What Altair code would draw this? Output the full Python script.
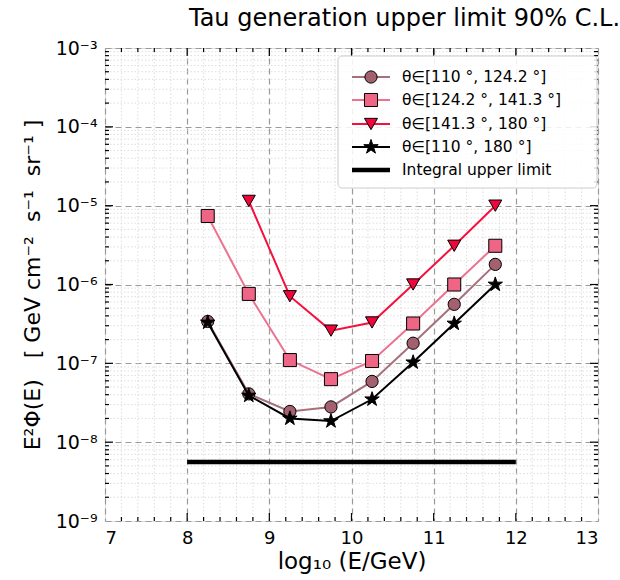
import altair as alt
import pandas as pd
import numpy as np

# ---------------- data ----------------
x_bins = [8.25, 8.75, 9.25, 9.75, 10.25, 10.75, 11.25, 11.75]
circ_y = [3.4e-7, 4.1e-8, 2.45e-8, 2.8e-8, 5.9e-8, 1.8e-7, 5.6e-7, 1.8e-6]
sq_y = [7.4e-6, 7.6e-7, 1.1e-7, 6.3e-8, 1.07e-7, 3.2e-7, 1.0e-6, 3.1e-6]
tri_x = [8.75, 9.25, 9.75, 10.25, 10.75, 11.25, 11.75]
tri_y = [1.15e-5, 7.1e-7, 2.6e-7, 3.3e-7, 1.0e-6, 3.1e-6, 1.0e-5]
star_y = [3.3e-7, 3.9e-8, 2.0e-8, 1.85e-8, 3.5e-8, 1.03e-7, 3.2e-7, 1.0e-6]
integral_x = [8, 12]
integral_y = [5.6e-9, 5.6e-9]

labels = [
    "θ∈[110\u00a0°, 124.2\u00a0°]",
    "θ∈[124.2\u00a0°, 141.3\u00a0°]",
    "θ∈[141.3\u00a0°, 180\u00a0°]",
    "θ∈[110\u00a0°, 180\u00a0°]",
    "Integral upper limit",
]

x_major = [7, 8, 9, 10, 11, 12, 13]
x_minor = [round(v, 1) for v in np.arange(7.2, 13.0, 0.2) if abs(v - round(v)) > 1e-6]
y_major = [1e-9, 1e-8, 1e-7, 1e-6, 1e-5, 1e-4, 1e-3]
y_minor = [m * 10.0 ** k for k in range(-9, -3) for m in range(2, 10)]

# ---------------- styles ----------------
FONT = "DejaVu Sans"
NB = "\u00a0"
W, H = 493, 473
STAR = ("M0,-1L0.2245,-0.309L0.951,-0.309L0.363,0.118L0.588,0.809L0,0.382"
        "L-0.588,0.809L-0.363,0.118L-0.951,-0.309L-0.2245,-0.309Z")
series = [
    dict(x=x_bins, y=circ_y, line="#a6707c", fill="#a3616f", shape="circle", size=150),
    dict(x=x_bins, y=sq_y, line="#ec7390", fill="#ee6585", shape="square", size=170),
    dict(x=tri_x, y=tri_y, line="#f5103f", fill="#f2053b", shape="triangle-down", size=170),
    dict(x=x_bins, y=star_y, line="#000000", fill="#000000", shape=STAR, size=230),
]

sup = {"-": "⁻", "0": "⁰", "1": "¹", "2": "²", "3": "³", "4": "⁴",
       "5": "⁵", "6": "⁶", "7": "⁷", "8": "⁸", "9": "⁹"}
expr = "''"
for e in range(-9, -2):
    s = "".join(sup[c] for c in str(e))
    expr = f"(round(log(datum.value)/LN10) == {e} ? '10{s}' : {expr})"

x_scale = alt.Scale(domain=[7, 13], nice=False, zero=False)
y_scale = alt.Scale(type="log", domain=[1e-9, 1e-3], nice=False)

y_title = f"E²Φ(E){NB}{NB}{NB}[{NB}GeV{NB}cm⁻²{NB}{NB}s⁻¹{NB}{NB}sr⁻¹{NB}]"

x_axis = alt.Axis(values=x_major, title="log₁₀ (E/GeV)", format="d", grid=True,
                  ticks=False, domain=False, labelFontSize=18, labelPadding=8,
                  titleFontSize=23, titleFontWeight="normal", titlePadding=3,
                  gridDash=[6, 4], gridColor="#9a9a9a", gridWidth=1.2,
                  labelColor="black", titleColor="black", labelFont=FONT, titleFont=FONT)
y_axis = alt.Axis(values=y_major, title=y_title, labelExpr=expr,
                  grid=True, ticks=False, domain=False, labelFontSize=19, labelPadding=8,
                  titleFontSize=22, titleFontWeight="normal", titlePadding=11,
                  gridDash=[6, 4], gridColor="#9a9a9a", gridWidth=1.2,
                  labelColor="black", titleColor="black", labelFont=FONT, titleFont=FONT)

X = lambda: alt.X("x:Q", scale=x_scale, axis=x_axis)
Y = lambda: alt.Y("y:Q", scale=y_scale, axis=y_axis)

layers = []

# base layer carrying axes (invisible points at corners)
base_df = pd.DataFrame({"x": [7, 13], "y": [1e-9, 1e-3]})
layers.append(alt.Chart(base_df).mark_point(opacity=0).encode(x=X(), y=Y()))

# minor grid
xm_df = pd.DataFrame({"x": x_minor})
ym_df = pd.DataFrame({"y": y_minor})
layers.append(alt.Chart(xm_df).mark_rule(color="#d6d6d6", strokeDash=[1.5, 2], strokeWidth=0.8).encode(x=X()))
layers.append(alt.Chart(ym_df).mark_rule(color="#d6d6d6", strokeDash=[1.5, 2], strokeWidth=0.8).encode(y=Y()))

# inward ticks
xM_df = pd.DataFrame({"x": x_major[1:-1]})
yM_df = pd.DataFrame({"y": y_major[1:-1]})
for df, ln in ((xM_df, 8), (xm_df, 4)):
    layers.append(alt.Chart(df).mark_rule(color="black", strokeWidth=1.2).encode(
        x=X(), y=alt.value(H), y2=alt.value(H - ln)))
    layers.append(alt.Chart(df).mark_rule(color="black", strokeWidth=1.2).encode(
        x=X(), y=alt.value(0), y2=alt.value(ln)))
for df, ln in ((yM_df, 8), (ym_df, 4)):
    layers.append(alt.Chart(df).mark_rule(color="black", strokeWidth=1.2).encode(
        y=Y(), x=alt.value(0), x2=alt.value(ln)))
    layers.append(alt.Chart(df).mark_rule(color="black", strokeWidth=1.2).encode(
        y=Y(), x=alt.value(W - ln), x2=alt.value(W)))

# integral upper limit
int_df = pd.DataFrame({"x": integral_x, "y": integral_y})
layers.append(alt.Chart(int_df).mark_line(color="black", strokeWidth=4.5).encode(x=X(), y=Y()))

# series
for s in series:
    df = pd.DataFrame({"x": s["x"], "y": s["y"]})
    layers.append(alt.Chart(df).mark_line(color=s["line"], strokeWidth=2).encode(x=X(), y=Y()))
    layers.append(alt.Chart(df).mark_point(filled=True, fill=s["fill"], stroke="black",
                                           strokeWidth=1, opacity=1, shape=s["shape"],
                                           size=s["size"]).encode(x=X(), y=Y()))

# legend (manual)
one = pd.DataFrame({"a": [0]})
LX0, LX1, LY0, LY1 = 233, 492, 8, 140
layers.append(alt.Chart(one).mark_rect(fill="white", fillOpacity=0.85, stroke="#cccccc",
                                       strokeWidth=1, cornerRadius=4).encode(
    x=alt.value(LX0), x2=alt.value(LX1), y=alt.value(LY0), y2=alt.value(LY1)))
row_y = [29, 52, 76, 99, 122]
for i, lab in enumerate(labels):
    ry = row_y[i]
    if i < 4:
        s = series[i]
        layers.append(alt.Chart(one).mark_rule(color=s["line"], strokeWidth=2).encode(
            x=alt.value(247), x2=alt.value(285), y=alt.value(ry)))
        layers.append(alt.Chart(one).mark_point(filled=True, fill=s["fill"], stroke="black",
                                                strokeWidth=1, opacity=1, shape=s["shape"],
                                                size=s["size"]).encode(
            x=alt.value(266), y=alt.value(ry)))
    else:
        layers.append(alt.Chart(one).mark_rule(color="black", strokeWidth=4.5).encode(
            x=alt.value(247), x2=alt.value(285), y=alt.value(ry)))
    layers.append(alt.Chart(one).mark_text(align="left", baseline="middle", fontSize=15.5,
                                           font=FONT, color="black").encode(
        x=alt.value(297), y=alt.value(ry), text=alt.value(lab)))

chart = alt.layer(*layers).properties(
    width=W, height=H,
    title=alt.TitleParams("Tau generation upper limit 90% C.L.", fontSize=24, font=FONT,
                          fontWeight="normal", color="black", anchor="middle", dx=53, offset=8),
    autosize=alt.AutoSizeParams(type="none"),
    padding={"left": 105, "top": 48, "right": 22, "bottom": 59},
).configure_view(stroke="black", strokeWidth=2.2).configure(background="white")

chart.save("out.html", embed_options={"renderer": "svg", "actions": False})
